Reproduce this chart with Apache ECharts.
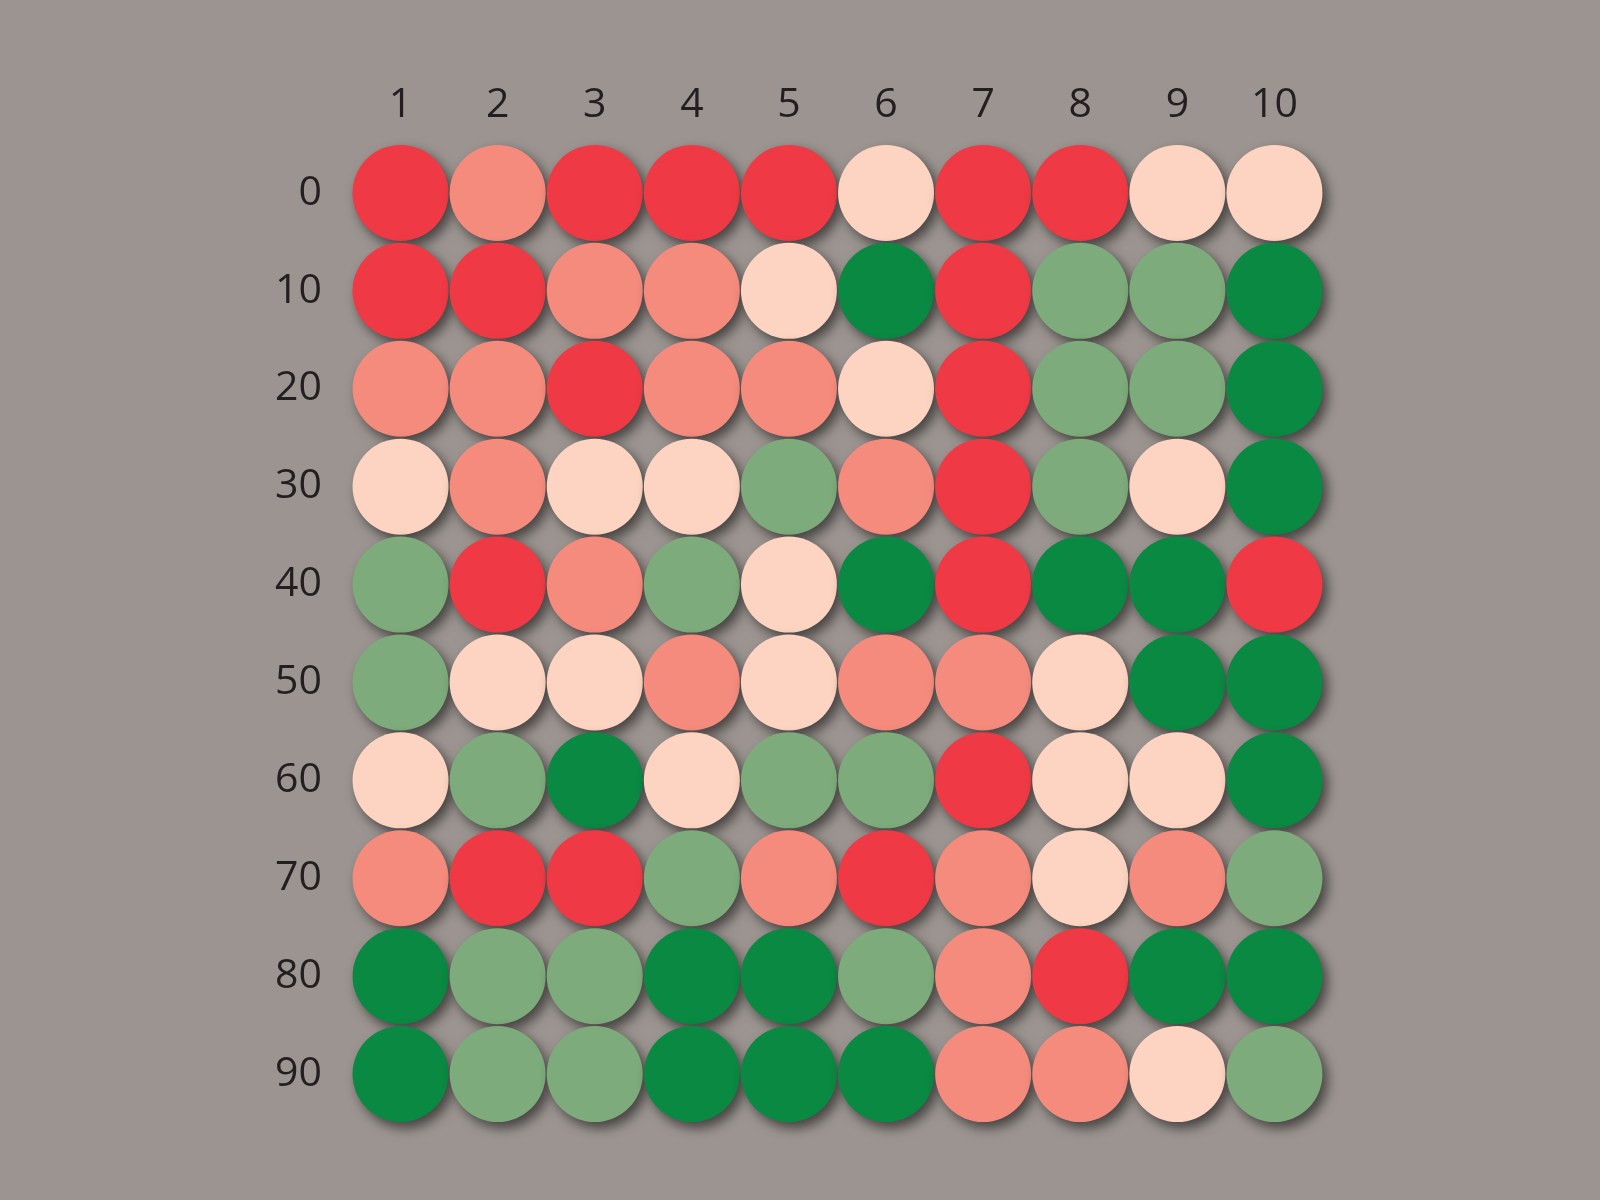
<!DOCTYPE html>
<html>
<head>
<meta charset="utf-8">
<script src="https://cdn.jsdelivr.net/npm/echarts@6/dist/echarts.min.js"></script>
<style>
html,body{margin:0;padding:0;background:#9b9490;}
#chart{width:1600px;height:1200px;}
</style>
</head>
<body>
<div id="chart"></div>
<script>
const columns = ['1','2','3','4','5','6','7','8','9','10'];
const rows = ['0','10','20','30','40','50','60','70','80','90'];
// levels: 5 = red, 4 = salmon, 3 = peach, 2 = light green, 1 = dark green
const row0  = [5,4,5,5,5,3,5,5,3,3];
const row10 = [5,5,4,4,3,1,5,2,2,1];
const row20 = [4,4,5,4,4,3,5,2,2,1];
const row30 = [3,4,3,3,2,4,5,2,3,1];
const row40 = [2,5,4,2,3,1,5,1,1,5];
const row50 = [2,3,3,4,3,4,4,3,1,1];
const row60 = [3,2,1,3,2,2,5,3,3,1];
const row70 = [4,5,5,2,4,5,4,3,4,2];
const row80 = [1,2,2,1,1,2,4,5,1,1];
const row90 = [1,2,2,1,1,1,4,4,3,2];
const levelColors = {5:'#ef3a45',4:'#f58b7d',3:'#fdd4c2',2:'#7dab7b',1:'#0a8943'};

const grid = [row0,row10,row20,row30,row40,row50,row60,row70,row80,row90];
const data = [];
grid.forEach((r, yi) => r.forEach((v, xi) => data.push([xi, yi, v])));

const chart = echarts.init(document.getElementById('chart'));
chart.setOption({
  backgroundColor: '#9b9490',
  animation: false,
  grid: {left: 352, top: 144, width: 971, height: 979},
  xAxis: {
    type: 'category', data: columns, position: 'top',
    axisLine: {show: false}, axisTick: {show: false}, splitLine: {show: false},
    axisLabel: {margin: 18, fontSize: 41, color: '#231f20', fontFamily: 'Open Sans'}
  },
  yAxis: {
    type: 'category', data: rows, inverse: true,
    axisLine: {show: false}, axisTick: {show: false}, splitLine: {show: false},
    axisLabel: {margin: 30, fontSize: 41, color: '#231f20', fontFamily: 'Open Sans'}
  },
  series: [{
    type: 'scatter',
    symbol: 'circle',
    symbolSize: 96,
    data: data,
    emphasis: {disabled: true},
    itemStyle: {
      opacity: 1,
      color: p => levelColors[p.data[2]],
      shadowColor: 'rgba(0,0,0,0.55)',
      shadowBlur: 12,
      shadowOffsetX: 5,
      shadowOffsetY: 6
    }
  }]
});
</script>
</body>
</html>
